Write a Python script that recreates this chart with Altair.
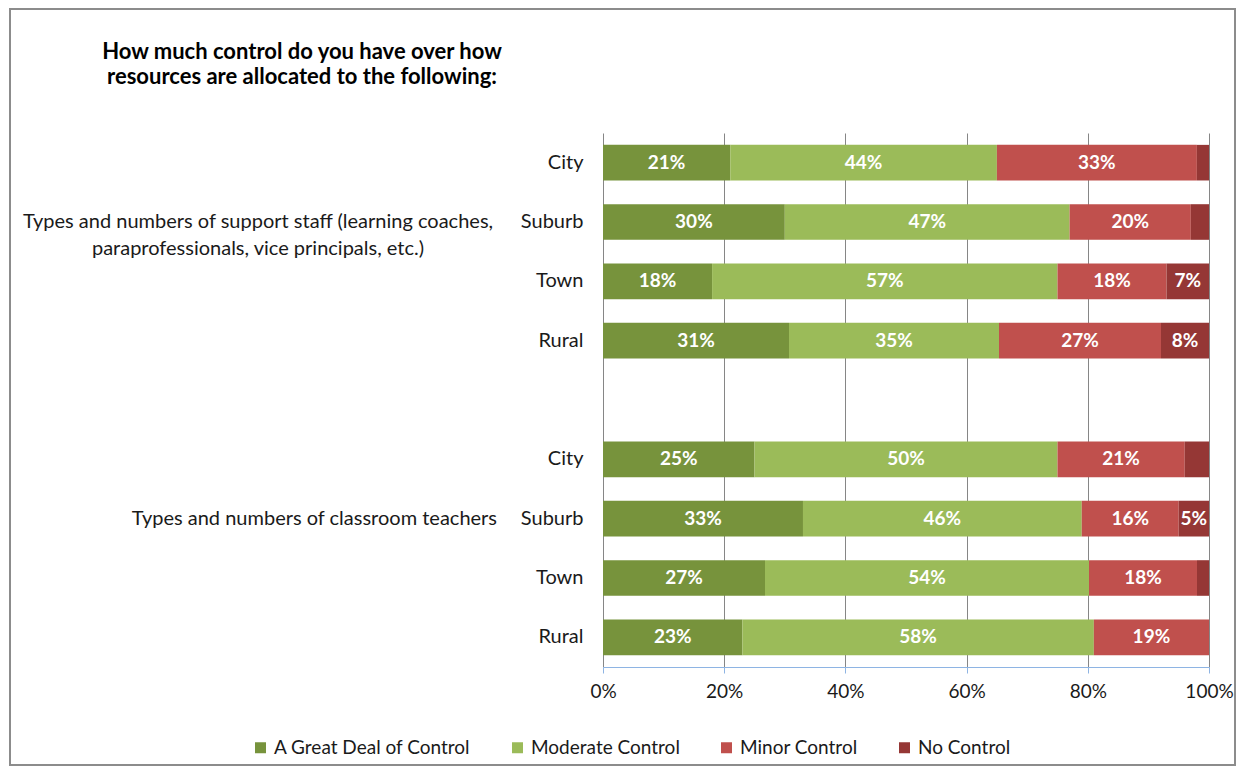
import altair as alt
import pandas as pd

title_text = "How much control do you have over how\nresources are allocated to the following:"
groups = ["Types and numbers of support staff (learning coaches,\nparaprofessionals, vice principals, etc.)",
          "Types and numbers of classroom teachers"]
group_keys = ["S", "T"]
locales = ["City", "Suburb", "Town", "Rural"]
categories = ["A Great Deal of Control", "Moderate Control", "Minor Control", "No Control"]
colors = ["#77933C", "#9BBB59", "#C0504D", "#953735"]

# order: support staff City, Suburb, Town, Rural, then classroom teachers City, Suburb, Town, Rural
great_deal = [21, 30, 18, 31, 25, 33, 27, 23]
moderate = [44, 47, 57, 35, 50, 46, 54, 58]
minor = [33, 20, 18, 27, 21, 16, 18, 19]
no_control = [2, 3, 7, 8, 4, 5, 2, 0]

row_keys = []
for g in group_keys:
    for loc in locales:
        row_keys.append(g + "|" + loc)
domain_rows = row_keys[:4] + ["gap"] + row_keys[4:]

series = [great_deal, moderate, minor, no_control]
recs = []
for i, key in enumerate(row_keys):
    vals = [s[i] for s in series]
    total = sum(vals)
    cum = 0
    for cat, v in zip(categories, vals):
        start = cum / total
        cum += v
        end = cum / total
        recs.append({"row": key, "category": cat, "value": v,
                     "start": start, "end": end, "mid": (start + end) / 2,
                     "label": f"{v}%" if v >= 5 else ""})
df = pd.DataFrame(recs)

FONT = "Lato"
TXT = "#1a1a1a"

y_enc = alt.Y("row:N", scale=alt.Scale(domain=domain_rows, paddingInner=0.4, paddingOuter=0.2),
              axis=alt.Axis(title=None, labelExpr="split(datum.value, '|')[1] || ''",
                            ticks=False, domain=False, labelPadding=20, labelFontSize=20,
                            labelColor=TXT, labelFont=FONT))

bars = alt.Chart(df).mark_bar().encode(
    x=alt.X("start:Q", scale=alt.Scale(domain=[0, 1], nice=False),
            axis=alt.Axis(title=None, format=".0%", values=[0, 0.2, 0.4, 0.6, 0.8, 1.0],
                          grid=True, gridColor="#868686", gridWidth=1, labelFlush=False,
                          domainColor="#8EB4E3", tickColor="#8EB4E3", tickSize=6,
                          labelPadding=9, labelFontSize=19, labelColor=TXT,
                          labelFont=FONT)),
    x2="end:Q",
    y=y_enc,
    color=alt.Color("category:N", scale=alt.Scale(domain=categories, range=colors),
                    legend=alt.Legend(title=None, orient="none", direction="horizontal",
                                      legendX=-352, legendY=605, symbolType="square",
                                      symbolSize=121, labelFontSize=19, labelFont=FONT,
                                      labelColor=TXT, columnPadding=37, symbolStrokeWidth=0,
                                      labelLimit=400, labelOffset=4)),
    order=alt.Order("start:Q"),
)

labels = alt.Chart(df).mark_text(color="white", fontWeight="bold", fontSize=19, font=FONT).encode(
    x="mid:Q",
    y=alt.Y("row:N"),
    text="label:N",
)

g_df = pd.DataFrame({"row": [group_keys[0] + "|Suburb", group_keys[1] + "|Suburb"], "text": groups})

g1 = alt.Chart(g_df.iloc[[0]]).mark_text(align="center", fontSize=20, font=FONT, color=TXT,
                                          lineBreak="\n", lineHeight=27).encode(
    x=alt.value(-345), y=alt.Y("row:N"), text="text:N")
g2 = alt.Chart(g_df.iloc[[1]]).mark_text(align="right", fontSize=20, font=FONT, color=TXT).encode(
    x=alt.value(-106), y=alt.Y("row:N"), text="text:N")

title = alt.Chart(pd.DataFrame({"t": [title_text]})).mark_text(
    align="center", baseline="middle", fontSize=22, fontWeight="bold", font=FONT, color="#000000",
    lineBreak="\n", lineHeight=25).encode(
    x=alt.value(-301), y=alt.value(-81), text="t:N")

frame = alt.Chart(pd.DataFrame({"a": [0]})).mark_rect(fill="transparent", stroke="#8C8C8C", strokeWidth=2).encode(
    x=alt.value(-593), x2=alt.value(632), y=alt.value(-124), y2=alt.value(632))

chart = alt.layer(frame, bars, labels, g1, g2, title).properties(
    width=606, height=534,
    autosize=alt.AutoSizeParams(type="none"),
    padding={"left": 595, "top": 125, "right": 30, "bottom": 100},
).configure_view(stroke=None).configure_axisY(grid=False)

chart.save("out.html", embed_options={"renderer": "svg", "actions": False})
